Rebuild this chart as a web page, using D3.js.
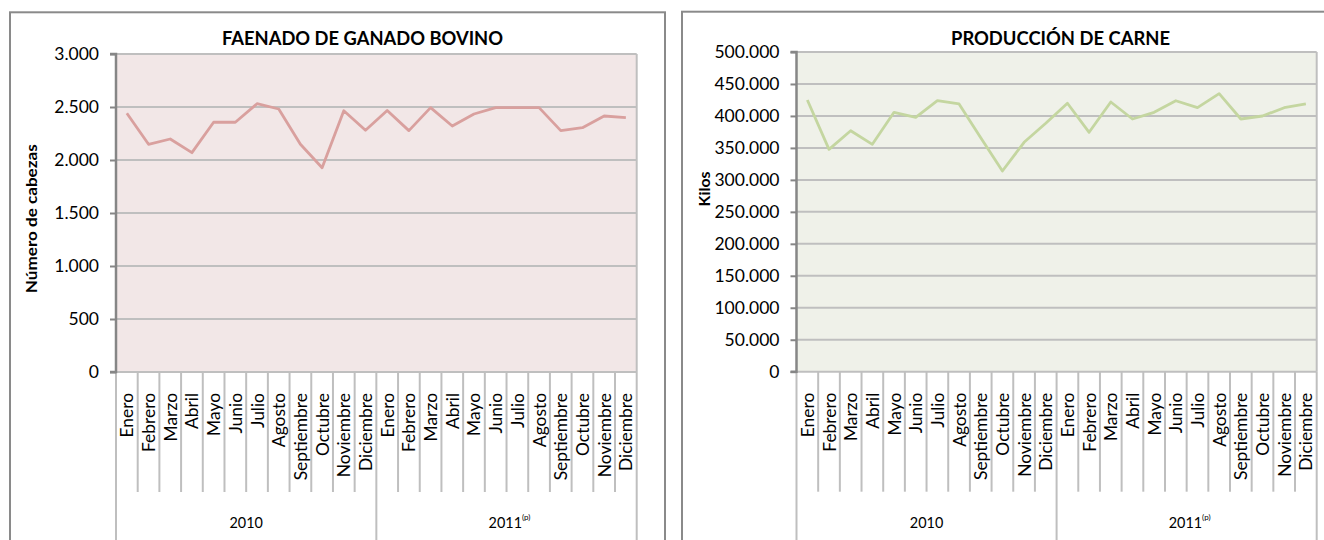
<!DOCTYPE html>
<html>
<head>
<meta charset="utf-8">
<script src="https://cdn.jsdelivr.net/npm/d3@7"></script>
<style>
  html, body { margin: 0; padding: 0; background: #fff; }
  svg { display: block; }
  text { font-family: Lato, "Open Sans", sans-serif; }
</style>
</head>
<body>
<svg id="chart" width="1324" height="540"></svg>
<script>
// ---- data ----
const months = ["Enero","Febrero","Marzo","Abril","Mayo","Junio","Julio","Agosto","Septiembre","Octubre","Noviembre","Diciembre"];
const years = ["2010", "2011"];
const yearSup = ["", "(p)"];
const faenado = [2441, 2148, 2198, 2069, 2356, 2356, 2531, 2481, 2148, 1927, 2465, 2280,
                 2467, 2277, 2494, 2321, 2434, 2494, 2494, 2494, 2277, 2305, 2415, 2399];
const carne = [424900, 347800, 376900, 355600, 405700, 397900, 423800, 418700, 366000, 313900, 358800, 388500,
               419800, 374400, 421800, 395200, 405700, 423800, 412900, 434800, 395200, 399900, 412900, 418700];
const faenadoTicks = [0, 500, 1000, 1500, 2000, 2500, 3000];
const carneTicks = [0, 50000, 100000, 150000, 200000, 250000, 300000, 350000, 400000, 450000, 500000];
const titles = ["FAENADO DE GANADO BOVINO", "PRODUCCIÓN DE CARNE"];
const yTitles = ["Número de cabezas", "Kilos"];

// ---- derived ----
const categories = years.flatMap(y => months.map(m => y + "-" + m));
const locale = d3.formatLocale({decimal: ",", thousands: ".", grouping: [3], currency: ["", ""]});
const fmt = locale.format(",d");

const svg = d3.select("#chart");

const charts = [
  {
    values: faenado, ticks: faenadoTicks, title: titles[0], yTitle: yTitles[0],
    frame: {x: 10, y: 12.3, w: 655},
    plot: {x0: 116, x1: 636.7, y0: 54, y1: 372},
    fill: "#f2e7e7", line: "#d9a09e",
    titleX: 362.5, titleLen: 281,
    yTitleX: 37.3, yTitleY: 218.7, yTitleLen: 149
  },
  {
    values: carne, ticks: carneTicks, title: titles[1], yTitle: yTitles[1],
    frame: {x: 682, y: 11.7, w: 700},
    plot: {x0: 796.5, x1: 1316.7, y0: 52, y1: 371.7},
    fill: "#eff1e9", line: "#c4d6a0",
    titleX: 1060.5, titleLen: 219,
    yTitleX: 710, yTitleY: 189, yTitleLen: 35
  }
];

charts.forEach(c => {
  const g = svg.append("g");
  const p = c.plot;

  // outer frame
  g.append("rect")
    .attr("x", c.frame.x).attr("y", c.frame.y)
    .attr("width", c.frame.w).attr("height", 700)
    .attr("fill", "#fff").attr("stroke", "#8a8a8a").attr("stroke-width", 2);

  const x = d3.scaleBand().domain(categories).range([p.x0, p.x1]).padding(0);
  const y = d3.scaleLinear().domain([0, d3.max(c.ticks)]).range([p.y1, p.y0]);

  // plot background
  g.append("rect")
    .attr("x", p.x0).attr("y", p.y0)
    .attr("width", p.x1 - p.x0).attr("height", p.y1 - p.y0)
    .attr("fill", c.fill);

  // gridlines
  g.append("g").selectAll("line").data(c.ticks).join("line")
    .attr("x1", p.x0).attr("x2", p.x1)
    .attr("y1", d => y(d)).attr("y2", d => y(d))
    .attr("stroke", "#bfbfbf").attr("stroke-width", 2);

  // right border
  g.append("line")
    .attr("x1", p.x1).attr("x2", p.x1).attr("y1", p.y0).attr("y2", p.y1)
    .attr("stroke", "#bfbfbf").attr("stroke-width", 2);

  // category separators
  const bounds = d3.range(categories.length + 1);
  g.append("g").selectAll("line").data(bounds).join("line")
    .attr("x1", k => k < categories.length ? x(categories[k]) : p.x1)
    .attr("x2", k => k < categories.length ? x(categories[k]) : p.x1)
    .attr("y1", p.y1)
    .attr("y2", k => (k % months.length === 0) ? 545 : p.y1 + 120)
    .attr("stroke", "#bfbfbf").attr("stroke-width", 2);

  // y axis
  const yAxis = d3.axisLeft(y).tickValues(c.ticks).tickFormat(fmt).tickSize(6).tickPadding(11);
  const ya = g.append("g").attr("transform", `translate(${p.x0},0)`).call(yAxis);
  ya.select(".domain").attr("stroke", "#868686").attr("stroke-width", 2.5)
    .attr("d", `M-6,${p.y0}H0V${p.y1}H-6`);
  ya.selectAll(".tick line").attr("stroke", "#868686").attr("stroke-width", 2);
  ya.selectAll(".tick text")
    .attr("fill", "#000")
    .style("font-family", "Lato, 'Open Sans', sans-serif")
    .style("font-size", "17.5px");

  // line
  const line = d3.line()
    .x((d, i) => x(categories[i]) + x.bandwidth() / 2)
    .y(d => y(d));
  g.append("path").datum(c.values)
    .attr("d", line)
    .attr("fill", "none")
    .attr("stroke", c.line)
    .attr("stroke-width", 2.8)
    .attr("stroke-linejoin", "round");

  // category labels
  g.append("g").selectAll("text").data(categories).join("text")
    .attr("transform", d => `translate(${x(d) + x.bandwidth() / 2 + 6.5},${p.y1 + 21}) rotate(-90)`)
    .attr("text-anchor", "end")
    .style("font-size", "17.4px")
    .attr("fill", "#000")
    .text(d => d.split("-")[1]);

  // year labels
  years.forEach((yr, yi) => {
    const first = x(categories[yi * months.length]);
    const cx = first + x.bandwidth() * months.length / 2;
    const t = g.append("text")
      .attr("x", cx + (yearSup[yi] ? 3 : 0)).attr("y", 528)
      .attr("text-anchor", "middle")
      .style("font-size", "14.4px")
      .attr("fill", "#000");
    t.append("tspan").text(yr);
    if (yearSup[yi]) {
      t.append("tspan").attr("dy", -8).style("font-size", "8px").text(yearSup[yi]);
    }
  });

  // title
  g.append("text")
    .attr("x", c.titleX).attr("y", 45)
    .attr("text-anchor", "middle")
    .attr("textLength", c.titleLen).attr("lengthAdjust", "spacingAndGlyphs")
    .style("font-size", "18.5px").style("font-weight", "bold")
    .attr("fill", "#000")
    .text(c.title);

  // y title
  g.append("text")
    .attr("transform", `translate(${c.yTitleX},${c.yTitleY}) rotate(-90)`)
    .attr("text-anchor", "middle")
    .attr("textLength", c.yTitleLen).attr("lengthAdjust", "spacingAndGlyphs")
    .style("font-size", "15.5px").style("font-weight", "bold")
    .attr("fill", "#000")
    .text(c.yTitle);
});
</script>
</body>
</html>
